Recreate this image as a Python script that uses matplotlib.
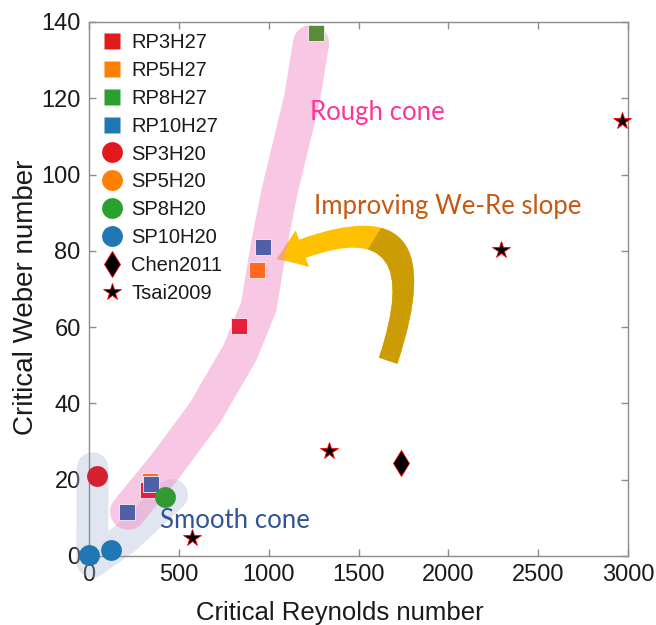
import matplotlib
matplotlib.use("Agg")
import matplotlib.pyplot as plt
from matplotlib.lines import Line2D
from matplotlib.patches import FancyArrowPatch, Polygon

# ---------------- data ----------------
rp3_re = [835, 328]
rp3_we = [60.4, 17.3]
rp5_re = [0, 935, 340]
rp5_we = [0, 75.0, 19.7]
rp8_re = [1263]
rp8_we = [137.0]
rp10_re = [968, 211, 345]
rp10_we = [81.0, 11.6, 18.9]

sp3_re = [45]
sp3_we = [21.0]
sp8_re = [423]
sp8_we = [15.5]
sp10_re = [0, 122]
sp10_we = [0.2, 1.6]

chen_re = [1736]
chen_we = [24.4]
tsai_re = [573, 1335, 2293, 2966]
tsai_we = [4.7, 27.6, 80.3, 114.0]

legend_labels = ["RP3H27", "RP5H27", "RP8H27", "RP10H27", "SP3H20", "SP5H20",
                 "SP8H20", "SP10H20", "Chen2011", "Tsai2009"]
x_ticks = [0, 500, 1000, 1500, 2000, 2500, 3000]
y_ticks = [0, 20, 40, 60, 80, 100, 120, 140]

# shaded regions (annotation guides)
rough_re = [217, 423, 646, 840, 945, 1000, 1063, 1185, 1236]
rough_we = [11.6, 23.4, 37.6, 53.3, 65.4, 81.2, 96.1, 119.8, 134.5]
smooth_re = [20, 18, 200, 462]
smooth_we = [23.0, -1.5, 4.5, 16.0]

# ---------------- figure ----------------
fig = plt.figure(figsize=(6.56, 6.25), dpi=100)
ax = fig.add_axes([0.1357, 0.1104, 0.8216, 0.8544])
ax.set_xlim(0, 3000)
ax.set_ylim(0, 140)

grey = "#8c8c8c"
for s in ax.spines.values():
    s.set_color(grey)
    s.set_linewidth(1.0)
ax.tick_params(direction="in", length=5, width=1, color=grey, labelsize=17,
               labelcolor="#1a1a1a", top=True, right=True, pad=6)
ax.set_xticks(x_ticks)
ax.set_yticks(y_ticks)
for lab in ax.get_xticklabels() + ax.get_yticklabels():
    lab.set_family("Liberation Sans")

ax.set_xlabel("Critical Reynolds number", fontsize=18.5, family="Liberation Sans",
              color="#1a1a1a")
ax.set_ylabel("Critical Weber number", fontsize=20, family="Liberation Sans",
              color="#1a1a1a")
ax.xaxis.set_label_coords(0.466, -0.085)
ax.yaxis.set_label_coords(-0.092, 0.485)

# arrow (improving slope), two-tone
arrow_kw = dict(connectionstyle="arc3,rad=1.15",
                arrowstyle="simple,head_width=28,head_length=20,tail_width=14",
                lw=0, zorder=1)
a1 = FancyArrowPatch((1660, 50.5), (1030, 77.5), color="#FFC000", **arrow_kw)
ax.add_patch(a1)
a2 = FancyArrowPatch((1660, 50.5), (1030, 77.5), color="#CC9C04", **arrow_kw)
ax.add_patch(a2)
clip = Polygon([(1341, 64.6), (2343, 140), (2800, 140), (2800, 0), (1341, 0)],
               closed=True, transform=ax.transData)
a2.set_clip_path(clip)
a2.set_clip_on(True)

# shaded regions
ax.plot(smooth_re, smooth_we, color="#AEBCD6", alpha=0.38, lw=23,
        solid_capstyle="round", solid_joinstyle="round", zorder=2, clip_on=False)
ax.plot(rough_re, rough_we, color="#F090C8", alpha=0.5, lw=26,
        solid_capstyle="round", solid_joinstyle="round", zorder=2, clip_on=False)

# data markers
sq = dict(marker="s", ms=12, ls="none", mec="#f2f2f2", mew=0.6, clip_on=False)
ax.plot(rp5_re, rp5_we, color="#FF6A20", zorder=4, **sq)
ax.plot(rp3_re, rp3_we, color="#E61F3F", zorder=5, **sq)
ax.plot(rp10_re, rp10_we, color="#4F5FA8", zorder=6, **sq)
ax.plot(rp8_re, rp8_we, color="#5B8A3C", zorder=6, **sq)
ci = dict(marker="o", ms=15, ls="none", mec="none", clip_on=False)
ax.plot(sp3_re, sp3_we, color="#D42030", zorder=7, **ci)
ax.plot(sp8_re, sp8_we, color="#339933", zorder=7, **ci)
ax.plot(sp10_re, sp10_we, color="#1F77B4", zorder=7, **ci)
ax.plot(chen_re, chen_we, marker="d", ms=13, ls="none", color="black",
        mec="red", mew=0.6, zorder=8, clip_on=False)
ax.plot(tsai_re, tsai_we, marker="*", ms=13, ls="none", color="black",
        mec="red", mew=0.6, zorder=8, clip_on=False)

# text annotations
ax.text(1230, 116.4, "Rough cone", color="#FF3399", fontsize=18.5,
        family="Lato", va="center", ha="left", zorder=9)
ax.text(1252, 91.7, "Improving We-Re slope", color="#C65911", fontsize=18.5,
        family="Lato", va="center", ha="left", zorder=9)
ax.text(395, 9.2, "Smooth cone", color="#2F5597", fontsize=18.5,
        family="Lato", va="center", ha="left", zorder=9)

# legend
leg_colors = ["#E31A1C", "#FF7F00", "#2CA02C", "#1F78B4",
              "#E31A1C", "#FF7F00", "#2CA02C", "#1F78B4"]
handles = []
for i in range(4):
    handles.append(Line2D([], [], marker="s", ms=11.5, ls="none",
                          color=leg_colors[i], mec="none"))
for i in range(4, 8):
    handles.append(Line2D([], [], marker="o", ms=15, ls="none",
                          color=leg_colors[i], mec="none"))
handles.append(Line2D([], [], marker="d", ms=13, ls="none", color="black",
                      mec="red", mew=0.6))
handles.append(Line2D([], [], marker="*", ms=13, ls="none", color="black",
                      mec="red", mew=0.6))
leg = ax.legend(handles, legend_labels, loc="upper left", frameon=False,
                prop={"family": "Liberation Sans", "size": 14.5},
                labelspacing=0.44, handletextpad=0.35, handlelength=1.2,
                borderaxespad=0.35, borderpad=0.2, labelcolor="#1a1a1a")
leg.set_zorder(10)

fig.savefig("out.png", dpi=100)
